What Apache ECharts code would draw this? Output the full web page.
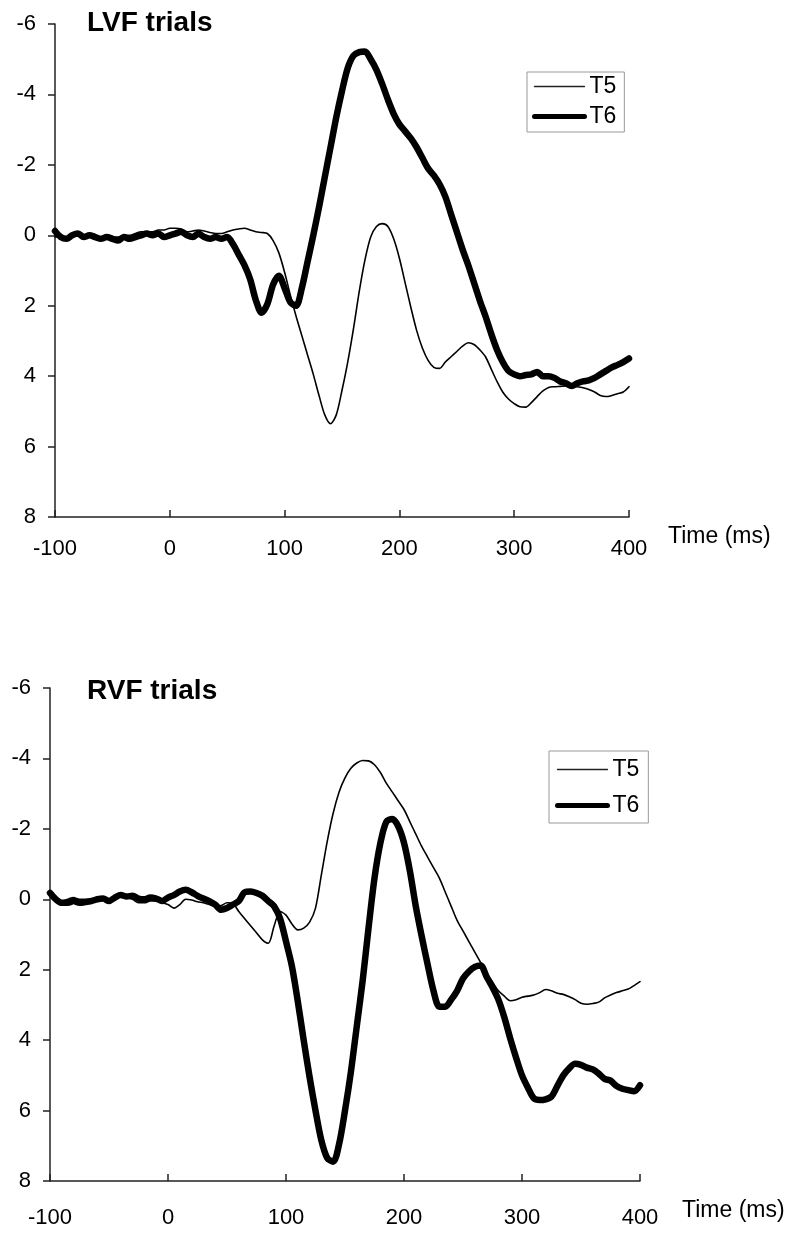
<!DOCTYPE html>
<html>
<head>
<meta charset="utf-8">
<script src="https://cdn.jsdelivr.net/npm/echarts@6/dist/echarts.min.js"></script>
<style>
html,body{margin:0;padding:0;background:#fff;}
#chart{width:800px;height:1243px;}
</style>
</head>
<body>
<div id="chart"></div>
<script>
// Time points (ms)
const times = [-100,-95,-90,-85,-80,-75,-70,-65,-60,-55,-50,-45,-40,-35,-30,-25,-20,-15,-10,-5,
0,5,10,15,20,25,30,35,40,45,50,55,60,65,70,75,80,85,90,95,
100,105,110,115,120,125,130,135,140,145,150,155,160,165,170,175,180,185,190,195,
200,205,210,215,220,225,230,235,240,245,250,255,260,265,270,275,280,285,290,295,
300,305,310,315,320,325,330,335,340,345,350,355,360,365,370,375,380,385,390,395,400];

const xTicks = [-100, 0, 100, 200, 300, 400];
const yTicks = [-6, -4, -2, 0, 2, 4, 6, 8];

// LVF trials
const lvfT5 = [0.05,0.05,0.05,0.0,0.0,0.0,0.0,0.05,0.05,0.05,0.05,0.05,0.0,0.0,-0.05,-0.1,-0.1,-0.1,-0.15,-0.15,
-0.2,-0.2,-0.18,-0.1,-0.12,-0.15,-0.12,-0.08,-0.05,-0.05,-0.1,-0.15,-0.18,-0.2,-0.15,-0.1,-0.08,-0.05,0.15,0.5,
1.05,1.7,2.3,2.85,3.4,3.95,4.55,5.1,5.35,5.1,4.4,3.6,2.65,1.6,0.7,0.05,-0.25,-0.33,-0.25,0.1,
0.65,1.35,2.05,2.7,3.2,3.55,3.75,3.78,3.6,3.45,3.3,3.15,3.05,3.1,3.25,3.45,3.8,4.15,4.45,4.65,
4.78,4.87,4.88,4.75,4.58,4.42,4.32,4.3,4.29,4.28,4.28,4.3,4.33,4.38,4.45,4.55,4.58,4.55,4.5,4.45,4.3];

const lvfT6 = [-0.12,0.05,0.1,0.0,-0.05,0.05,0.0,0.05,0.1,0.05,0.1,0.15,0.05,0.1,0.05,0.0,-0.05,0.0,-0.05,0.05,
0.0,-0.05,-0.1,0.0,0.05,-0.05,0.05,0.1,0.05,0.1,0.05,0.25,0.55,0.85,1.25,1.85,2.2,1.95,1.4,1.15,
1.5,1.9,2.0,1.5,0.75,0.0,-0.8,-1.65,-2.5,-3.35,-4.1,-4.75,-5.1,-5.2,-5.22,-5.0,-4.7,-4.3,-3.85,-3.45,
-3.15,-2.95,-2.75,-2.5,-2.2,-1.9,-1.7,-1.45,-1.1,-0.6,-0.1,0.4,0.85,1.35,1.85,2.3,2.8,3.25,3.6,3.85,
3.95,4.0,3.97,3.95,3.88,4.0,4.0,4.05,4.15,4.2,4.28,4.2,4.15,4.12,4.05,3.95,3.85,3.75,3.68,3.6,3.5];

// RVF trials
const rvfT5 = [-0.15,0.0,0.05,0.0,-0.05,0.0,0.0,-0.02,0.0,-0.05,0.0,-0.08,-0.1,-0.05,0.0,0.1,0.1,0.05,0.05,0.1,
0.15,0.25,0.15,0.0,0.02,0.07,0.1,0.15,0.2,0.18,0.1,0.12,0.35,0.55,0.75,0.95,1.15,1.25,0.75,0.35,
0.45,0.7,0.87,0.82,0.65,0.25,-0.7,-1.65,-2.45,-3.05,-3.45,-3.72,-3.87,-3.94,-3.93,-3.82,-3.6,-3.3,-3.05,-2.8,
-2.55,-2.2,-1.85,-1.5,-1.2,-0.9,-0.6,-0.2,0.2,0.6,0.9,1.2,1.5,1.8,2.1,2.35,2.6,2.75,2.88,2.85,
2.78,2.75,2.72,2.65,2.56,2.6,2.67,2.7,2.77,2.85,2.95,2.98,2.96,2.92,2.8,2.72,2.65,2.6,2.55,2.45,2.34];

const rvfT6 = [-0.18,0.0,0.1,0.1,0.05,0.1,0.08,0.05,0.0,-0.02,0.05,-0.05,-0.12,-0.08,-0.1,-0.02,0.0,-0.05,-0.02,0.05,
-0.05,-0.12,-0.22,-0.27,-0.2,-0.1,-0.02,0.05,0.15,0.3,0.25,0.15,0.05,-0.2,-0.22,-0.18,-0.1,0.05,0.2,0.55,
1.2,1.9,2.9,4.0,5.05,6.0,6.85,7.35,7.45,6.95,6.0,4.9,3.6,2.3,0.8,-0.6,-1.6,-2.2,-2.28,-2.08,
-1.6,-0.8,0.2,1.05,1.85,2.6,3.05,3.05,2.85,2.6,2.25,2.05,1.92,1.88,2.2,2.5,2.85,3.35,3.95,4.5,
5.0,5.35,5.65,5.7,5.68,5.6,5.3,5.0,4.8,4.67,4.7,4.78,4.83,4.95,5.1,5.15,5.3,5.38,5.42,5.45,5.28];

const titles = ['LVF trials', 'RVF trials'];
const seriesNames = ['T5', 'T6'];
const xName = 'Time (ms)';

function pairs(vals) { return times.map((t, i) => [t, vals[i]]); }

const FONT = '"Liberation Sans", Arial, sans-serif';
const AX = '#222';
const THIN = 1.6, THICK = 6.5;

function xAxisCfg(gridIndex, labelMargin, nameGap, namePad) {
  return {
    type: 'value', gridIndex: gridIndex, min: -100, max: 400, interval: 100,
    position: 'bottom',
    axisLine: { onZero: false, lineStyle: { color: AX, width: 1.5 } },
    axisTick: { inside: true, length: 7, lineStyle: { color: AX, width: 1.5 } },
    splitLine: { show: false },
    axisLabel: { margin: labelMargin, fontSize: 22, color: '#000', fontFamily: FONT,
      formatter: v => xTicks.indexOf(v) >= 0 ? String(v) : '' },
    name: xName, nameLocation: 'end', nameGap: nameGap,
    nameTextStyle: { fontSize: 23, color: '#000', fontFamily: FONT, align: 'left', verticalAlign: 'top', padding: [namePad, 0, 0, 0] }
  };
}
function yAxisCfg(gridIndex) {
  return {
    type: 'value', gridIndex: gridIndex, min: -6, max: 8, interval: 2, inverse: true,
    axisLine: { show: true, onZero: false, lineStyle: { color: AX, width: 1.5 } },
    axisTick: { show: true, inside: false, length: 7, lineStyle: { color: AX, width: 1.5 } },
    splitLine: { show: false },
    axisLabel: { margin: 19, fontSize: 22, color: '#000', fontFamily: FONT,
      formatter: v => yTicks.indexOf(v) >= 0 ? String(v) : '' }
  };
}
function lineSeries(name, vals, idx, width) {
  return {
    name: name, type: 'line', xAxisIndex: idx, yAxisIndex: idx,
    data: pairs(vals), symbol: 'none', smooth: 0.3, silent: true,
    lineStyle: { color: '#000', width: width, cap: 'round', join: 'round' },
    itemStyle: { color: '#000' }
  };
}
function legendCfg(left, top, gap, pad) {
  return {
    orient: 'vertical', left: left, top: top,
    data: [
      { name: seriesNames[0], lineStyle: { width: 1.3, color: '#222' }, itemStyle: { opacity: 0 } },
      { name: seriesNames[1], lineStyle: { width: 5, color: '#000', cap: 'round' }, itemStyle: { opacity: 0 } }
    ],
    itemWidth: 50, itemHeight: 14, itemGap: gap, padding: pad,
    borderColor: '#999', borderWidth: 1, borderRadius: 0,
    selectedMode: false,
    itemStyle: { opacity: 0 },
    textStyle: { fontSize: 23, color: '#000', fontFamily: FONT }
  };
}

const chart = echarts.init(document.getElementById('chart'), null, { renderer: 'canvas' });
chart.setOption({
  animation: false,
  backgroundColor: '#fff',
  title: [
    { text: titles[0], left: 87, top: 9, padding: 0, textStyle: { fontSize: 28, fontWeight: 'bold', color: '#000', fontFamily: FONT } },
    { text: titles[1], left: 87, top: 677, padding: 0, textStyle: { fontSize: 28, fontWeight: 'bold', color: '#000', fontFamily: FONT } }
  ],
  legend: [
    legendCfg(527, 72, 7, [3, 8, 4, 5]),
    legendCfg(549, 751, 13, [7, 9, 6, 6])
  ],
  grid: [
    { left: 55, top: 24, width: 574, height: 493 },
    { left: 50, top: 688, width: 590, height: 493 }
  ],
  xAxis: [ xAxisCfg(0, 21, 39, 8), xAxisCfg(1, 26, 42, 18) ],
  yAxis: [ yAxisCfg(0), yAxisCfg(1) ],
  series: [
    lineSeries(seriesNames[0], lvfT5, 0, THIN),
    lineSeries(seriesNames[1], lvfT6, 0, THICK),
    lineSeries(seriesNames[0], rvfT5, 1, THIN),
    lineSeries(seriesNames[1], rvfT6, 1, THICK)
  ]
});
</script>
</body>
</html>
